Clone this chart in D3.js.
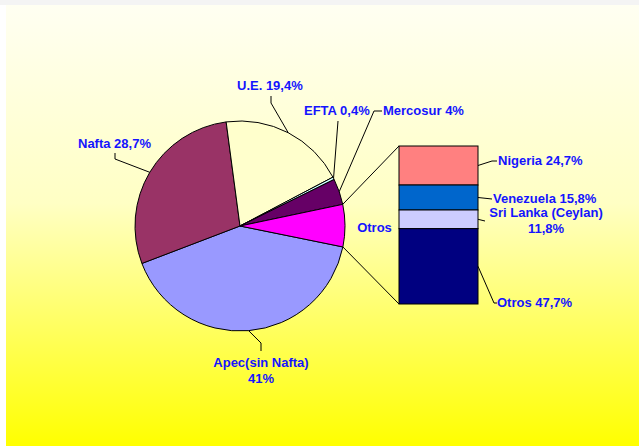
<!DOCTYPE html>
<html>
<head>
<meta charset="utf-8">
<script src="https://cdn.jsdelivr.net/npm/d3@7"></script>
<style>
html,body{margin:0;padding:0;background:#fff;}
svg{display:block;}
</style>
</head>
<body>
<svg width="639" height="446"></svg>
<script>
// pie data
const regions=["Apec(sin Nafta)","Nafta","U.E.","EFTA","Mercosur","Otros"]
const shares=[41,28.7,19.4,0.4,4,6.5]
const pieColors=["#9999FF","#993366","#FFFFCC","#CCFFFF","#660066","#FF00FF"]
const pieLabels=[["Apec(sin Nafta)","41%"],["Nafta 28,7%"],["U.E. 19,4%"],["EFTA 0,4%"],["Mercosur 4%"],null]

// bar of pie (Otros breakdown)
const otros=["Nigeria","Venezuela","Sri Lanka (Ceylan)","Otros"]
const otrosShares=[24.7,15.8,11.8,47.7]
const barColors=["#FF8080","#0066CC","#CCCCFF","#000080"]
const barLabels=[["Nigeria 24,7%"],["Venezuela 15,8%"],["Sri Lanka (Ceylan)","11,8%"],["Otros 47,7%"]]

const svg=d3.select("svg")
const font="'Liberation Sans', Arial, sans-serif"
const blue="#1414FF"

// background
const defs=svg.append("defs")
const grad=defs.append("linearGradient").attr("id","bg").attr("x1",0).attr("y1",0).attr("x2",0).attr("y2",1)
grad.append("stop").attr("offset","0%").attr("stop-color","#FFFFF2")
grad.append("stop").attr("offset","45%").attr("stop-color","#FFFFC4")
grad.append("stop").attr("offset","100%").attr("stop-color","#FFFF00")
svg.append("rect").attr("x",0).attr("y",0).attr("width",639).attr("height",5).attr("fill","#F4F4F4")
svg.append("rect").attr("x",6).attr("y",5).attr("width",633).attr("height",441).attr("fill","url(#bg)")

const cx=240, cy=226, r=105
const deg=Math.PI/180
const start=101.5*deg

const pie=d3.pie().sort(null).startAngle(start).endAngle(start+2*Math.PI)
const arcs=pie(shares)
const arc=d3.arc().innerRadius(0).outerRadius(r)
const onArc=a=>[cx+r*Math.sin(a),cy-r*Math.cos(a)]

const g=svg.append("g").attr("transform",`translate(${cx},${cy})`)
g.selectAll("path").data(arcs).join("path")
 .attr("d",arc)
 .attr("fill",(d,i)=>pieColors[i])
 .attr("stroke","#000").attr("stroke-width",1)

// bar
const bx0=399, bx1=478
const y=d3.scaleLinear().domain([0,100]).range([146,304])
let acc=0
const segs=otrosShares.map((v,i)=>{let s={i:i,y0:acc,y1:acc+v};acc+=v;return s})
svg.selectAll("rect.seg").data(segs).join("rect").attr("class","seg")
 .attr("x",bx0).attr("width",bx1-bx0)
 .attr("y",d=>y(d.y0)).attr("height",d=>y(d.y1)-y(d.y0))
 .attr("fill",d=>barColors[d.i]).attr("stroke","#000").attr("stroke-width",1)

// connectors from Otros slice to bar
const ot=arcs[5]
const pTop=onArc(ot.startAngle), pBot=onArc(ot.endAngle)
svg.append("line").attr("x1",pTop[0]).attr("y1",pTop[1]).attr("x2",bx0).attr("y2",y(0)).attr("stroke","#000")
svg.append("line").attr("x1",pBot[0]).attr("y1",pBot[1]).attr("x2",bx0).attr("y2",y(100)).attr("stroke","#000")

// label layout (anchor, leader bends)
const pieLayout=[
 {x:261,y:367,anchor:"middle",bend:[[261,343],[261,351]]},
 {x:78,y:148,anchor:"start",bend:[[115,159],[115,153]]},
 {x:237,y:90,anchor:"start",bend:[[271,103],[271,96]]},
 {x:304,y:115,anchor:"start",bend:[[338,121]]},
 {x:383,y:115,anchor:"start",bend:[[374,111],[382,111]]}
]
const barLayout=[
 {x:498,y:165,anchor:"start",bend:[[492,161],[497,161]]},
 {x:493,y:203,anchor:"start",bend:[[492,199]]},
 {x:546,y:217,anchor:"middle",bend:[[485,221]]},
 {x:497,y:307,anchor:"start",bend:[[494,303],[497,303]]}
]
const line=d3.line()

const addLabel=(lines,L)=>{
 const t=svg.append("text").attr("x",L.x).attr("y",L.y).attr("text-anchor",L.anchor)
  .attr("font-family",font).attr("font-weight","bold").attr("font-size",13).attr("fill",blue)
 lines.forEach((s,k)=>{t.append("tspan").attr("x",L.x).attr("dy",k?15.5:0).text(s)})
}

arcs.forEach((d,i)=>{
 if(!pieLabels[i])return
 const L=pieLayout[i]
 const p=onArc((d.startAngle+d.endAngle)/2)
 svg.append("path").attr("d",line([p].concat(L.bend))).attr("fill","none").attr("stroke","#000").attr("stroke-width",1)
 addLabel(pieLabels[i],L)
})
segs.forEach((d,i)=>{
 const L=barLayout[i]
 const p=[bx1,(y(d.y0)+y(d.y1))/2]
 svg.append("path").attr("d",line([p].concat(L.bend))).attr("fill","none").attr("stroke","#000").attr("stroke-width",1)
 addLabel(barLabels[i],L)
})

// Otros label beside slice
svg.append("text").attr("x",374.5).attr("y",232).attr("text-anchor","middle")
 .attr("font-family",font).attr("font-weight","bold").attr("font-size",13).attr("fill",blue).text("Otros")
</script>
</body>
</html>
